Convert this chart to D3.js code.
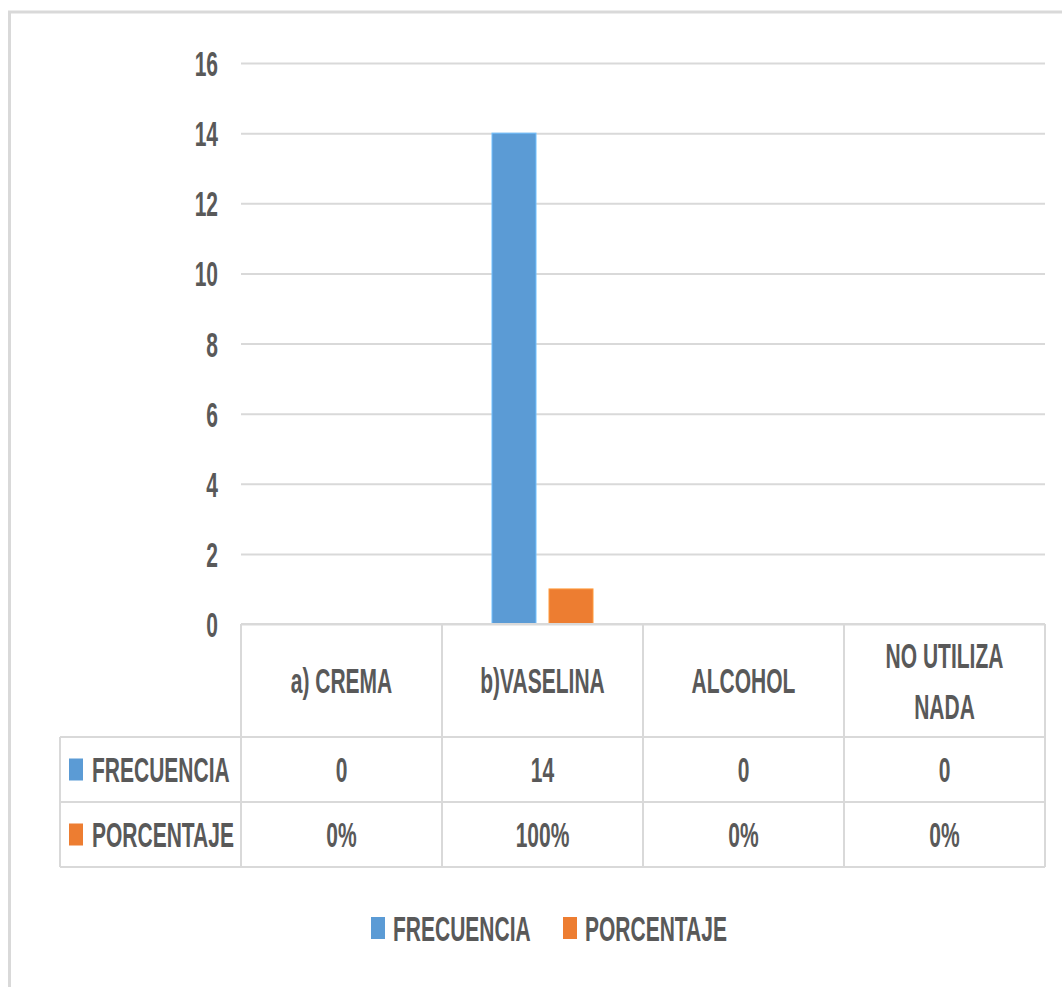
<!DOCTYPE html>
<html>
<head>
<meta charset="utf-8">
<script src="https://cdn.jsdelivr.net/npm/d3@7"></script>
<style>
  html, body { margin: 0; padding: 0; background: #ffffff; }
  svg { display: block; }
  text { font-family: "Liberation Sans", Arial, sans-serif; fill: #595959; font-weight: bold; }
</style>
</head>
<body>
<svg id="chart" width="1062" height="987"></svg>
<script>
// Chart data
const categories = ["a) CREMA", "b)VASELINA", "ALCOHOL", "NO UTILIZA\nNADA"];
const seriesNames = ["FRECUENCIA", "PORCENTAJE"];
const frecuencia = [0, 14, 0, 0];
const porcentaje = [0, 1, 0, 0];          // shares, shown as percentages
const yTicks = [0, 2, 4, 6, 8, 10, 12, 14, 16];
const seriesColors = ["#5b9bd5", "#ed7d31"];

const seriesValues = [frecuencia, porcentaje];
const rowText = [
  v => String(v),
  v => d3.format(".0%")(v)
];

const svg = d3.select("#chart");
const FONT = 35, SX = 0.6, GRID = "#d9d9d9";

// Layout
const plotLeft = 241, plotRight = 1045, plotTop = 63, plotBottom = 624;
const headerBottom = 737, rowH = 65, tableLeft = 60;

// Outer chart frame
svg.append("rect")
  .attr("x", 9.5).attr("y", 12).attr("width", 1200).attr("height", 1100)
  .attr("fill", "none").attr("stroke", GRID).attr("stroke-width", 3);

const x = d3.scaleBand().domain(categories).range([plotLeft, plotRight]);
const x1 = d3.scaleBand().domain(seriesNames).range([0, x.bandwidth()])
  .paddingInner(0.228).paddingOuter(0.877);
const y = d3.scaleLinear().domain([0, 16]).range([plotBottom, plotTop]);

// Condensed text helper
function label(sel, tx, ty, str, anchor) {
  return sel.append("text")
    .attr("transform", `translate(${tx},${ty}) scale(${SX},1)`)
    .attr("text-anchor", anchor || "middle")
    .attr("dy", "0.36em")
    .style("font-size", FONT + "px")
    .text(str);
}

// Value axis with gridlines
const yAxis = svg.append("g")
  .attr("transform", `translate(${plotLeft},0)`)
  .call(d3.axisLeft(y).tickValues(yTicks).tickSize(-(plotRight - plotLeft)).tickPadding(0));
yAxis.select(".domain").remove();
yAxis.selectAll(".tick line").attr("stroke", GRID).attr("stroke-width", 2);
yAxis.selectAll(".tick text")
  .attr("x", null).attr("dy", "0.36em")
  .attr("transform", `translate(-23,0) scale(${SX},1)`)
  .attr("text-anchor", "end")
  .attr("fill", "#595959")
  .style("font-size", FONT + "px")
  .style("font-weight", "bold")
  .style("font-family", '"Liberation Sans", Arial, sans-serif');

// Bars
seriesNames.forEach((name, si) => {
  svg.append("g").selectAll("rect")
    .data(seriesValues[si].map((v, i) => ({ cat: categories[i], v })))
    .join("rect")
    .attr("x", d => x(d.cat) + x1(name))
    .attr("width", x1.bandwidth())
    .attr("y", d => y(d.v))
    .attr("height", d => y(0) - y(d.v))
    .attr("fill", seriesColors[si])
    .attr("stroke", d3.color(seriesColors[si]).brighter(0.6))
    .attr("stroke-width", d => d.v > 0 ? 1 : 0);
});

// Data table grid
const table = svg.append("g")
  .attr("fill", "none").attr("stroke", GRID).attr("stroke-width", 2);
const tableBottom = headerBottom + rowH * seriesNames.length;
// baseline / header top
table.append("line").attr("x1", plotLeft).attr("x2", plotRight)
  .attr("y1", plotBottom).attr("y2", plotBottom);
// row separators
d3.range(seriesNames.length + 1).forEach(r => {
  const yy = headerBottom + r * rowH;
  table.append("line").attr("x1", tableLeft).attr("x2", plotRight)
    .attr("y1", yy).attr("y2", yy);
});
// column separators
categories.concat([null]).forEach((c, i) => {
  const xx = plotLeft + i * x.bandwidth();
  table.append("line").attr("x1", xx).attr("x2", xx)
    .attr("y1", plotBottom).attr("y2", tableBottom);
});
table.append("line").attr("x1", tableLeft).attr("x2", tableLeft)
  .attr("y1", headerBottom).attr("y2", tableBottom);

// Category headers
const headerMid = (plotBottom + headerBottom) / 2;
categories.forEach(c => {
  const lines = c.split("\n");
  const lh = 51;
  lines.forEach((ln, k) => {
    label(svg, x(c) + x.bandwidth() / 2,
      headerMid + (k - (lines.length - 1) / 2) * lh, ln);
  });
});

// Table rows: legend key, series name, values
seriesNames.forEach((name, si) => {
  const mid = headerBottom + si * rowH + rowH / 2;
  svg.append("rect").attr("x", 69).attr("y", mid - 11)
    .attr("width", 14).attr("height", 22).attr("fill", seriesColors[si]);
  label(svg, 92, mid, name, "start");
  seriesValues[si].forEach((v, i) => {
    label(svg, x(categories[i]) + x.bandwidth() / 2, mid, rowText[si](v));
  });
});

// Legend
const legendY = 928;
const legendX = [371, 563];
seriesNames.forEach((name, si) => {
  svg.append("rect").attr("x", legendX[si]).attr("y", legendY - 11)
    .attr("width", 14).attr("height", 22).attr("fill", seriesColors[si]);
  label(svg, legendX[si] + 22, legendY, name, "start");
});
</script>
</body>
</html>
